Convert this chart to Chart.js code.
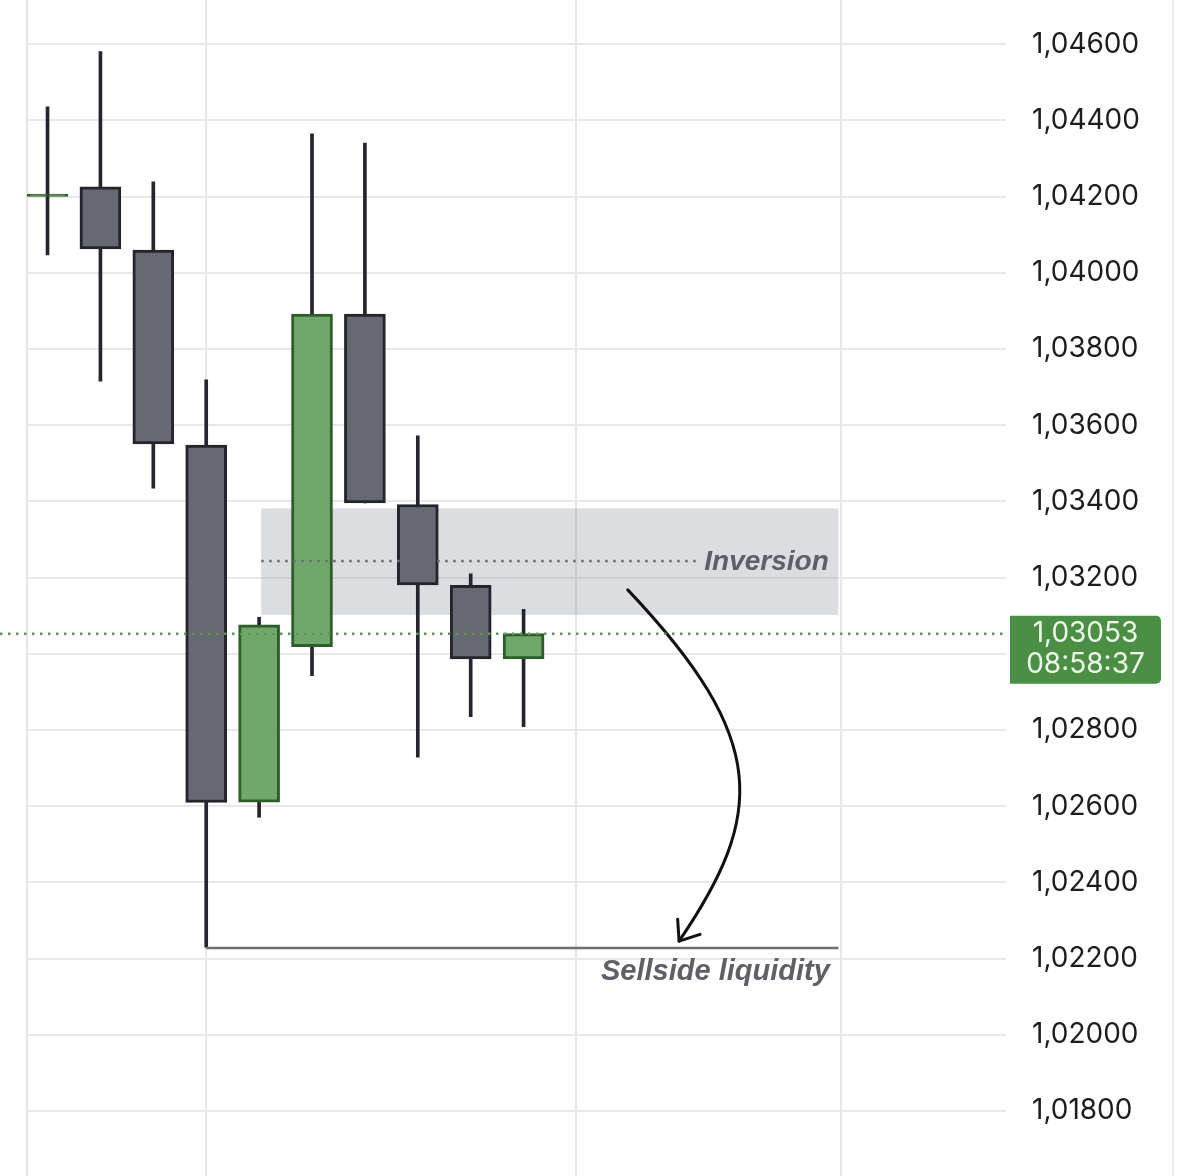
<!DOCTYPE html>
<html>
<head>
<meta charset="utf-8">
<script src="https://cdn.jsdelivr.net/npm/chart.js@4.4.1/dist/chart.umd.min.js"></script>
<style>
  html, body { margin: 0; padding: 0; background: #fff; }
  canvas { display: block; }
</style>
</head>
<body>
<canvas id="chart" width="1200" height="1176"></canvas>
<script>
// ── candles (index on the time axis, OHLC) ──
const candleIdx = [0, 1, 2, 3, 4, 5, 6, 7, 8, 9];
const opens  = [1.04201, 1.04226, 1.04060, 1.03548, 1.02611, 1.03019, 1.03892, 1.03392, 1.03180, 1.02987];
const closes = [1.04207, 1.04063, 1.03551, 1.02610, 1.03076, 1.03892, 1.03396, 1.03181, 1.02987, 1.03053];
const highs  = [1.04436, 1.04581, 1.04239, 1.03719, 1.03096, 1.04365, 1.04341, 1.03572, 1.03210, 1.03117];
const lows   = [1.04047, 1.03716, 1.03435, 1.02230, 1.02571, 1.02943, 1.03396, 1.02729, 1.02835, 1.02809];

// ── axes ──
const yTicks = [1.018, 1.020, 1.022, 1.024, 1.026, 1.028, 1.030, 1.032, 1.034, 1.036, 1.038, 1.040, 1.042, 1.044, 1.046];
const xGrid = [3, 10, 15];
const X_MIN = -0.388, X_MAX = 18.12;
const Y_MIN = 1.016294, Y_MAX = 1.047163;

// ── annotations ──
const lastPrice = 1.03053;
const countdown = '08:58:37';
const zone = { x0: 4.04, x1: 14.95, lo: 1.03102, hi: 1.03382 };
const inversionLevel = 1.03244;
const inversionLineEnd = 12.27;
const sellsideLevel = 1.02228;
const sellsideFrom = 3, sellsideTo = 14.95;
// arrow, cubic bezier in data space
const arrowPts = [[10.97, 1.03168], [13.66, 1.02774], [13.56, 1.02577], [11.94, 1.02246]];

const BULL_FILL = '#70a86b', BULL_LINE = '#2d5d29';
const BEAR_FILL = '#676872', BEAR_LINE = '#24242c';
const WICK = '#25252d';

const fmt = v => v.toFixed(5).replace('.', ',');
const isDoji = i => Math.abs(closes[i] - opens[i]) < 0.0001;

const overlays = {
  id: 'overlays',
  beforeDatasetsDraw(chart) {
    const { ctx, scales: { x, y } } = chart;
    ctx.save();
    // right panel border
    ctx.strokeStyle = '#ebebeb'; ctx.lineWidth = 2;
    ctx.beginPath(); ctx.moveTo(1173, 0); ctx.lineTo(1173, chart.height); ctx.stroke();
    // inversion zone
    ctx.fillStyle = 'rgba(140,143,155,0.3)';
    const zx = x.getPixelForValue(zone.x0), zy = y.getPixelForValue(zone.hi);
    ctx.fillRect(zx, zy, x.getPixelForValue(zone.x1) - zx, y.getPixelForValue(zone.lo) - zy);
    ctx.restore();
  },
  afterDatasetsDraw(chart) {
    const { ctx, chartArea, scales: { x, y } } = chart;
    ctx.save();
    // inversion dotted line + label
    const iy = y.getPixelForValue(inversionLevel);
    ctx.strokeStyle = '#6e6e76'; ctx.lineWidth = 2.5; ctx.setLineDash([2.5, 5.5]);
    ctx.beginPath(); ctx.moveTo(x.getPixelForValue(zone.x0), iy); ctx.lineTo(x.getPixelForValue(inversionLineEnd), iy); ctx.stroke();
    ctx.setLineDash([]);
    ctx.fillStyle = '#5e5f67';
    ctx.font = 'italic bold 28px "Liberation Sans", Arial, sans-serif';
    ctx.textAlign = 'right'; ctx.textBaseline = 'middle';
    ctx.fillText('Inversion', x.getPixelForValue(14.77), iy + 1);

    // sellside liquidity line + label
    const sy = y.getPixelForValue(sellsideLevel);
    ctx.strokeStyle = '#6d6d6f'; ctx.lineWidth = 2.5;
    ctx.beginPath(); ctx.moveTo(x.getPixelForValue(sellsideFrom), sy); ctx.lineTo(x.getPixelForValue(sellsideTo), sy); ctx.stroke();
    ctx.font = 'italic bold 29px "Liberation Sans", Arial, sans-serif';
    ctx.fillText('Sellside liquidity', x.getPixelForValue(14.79), sy + 24);

    // curved arrow
    const p = arrowPts.map(([a, b]) => [x.getPixelForValue(a), y.getPixelForValue(b)]);
    ctx.strokeStyle = '#111'; ctx.lineWidth = 3; ctx.lineCap = 'round'; ctx.lineJoin = 'round';
    ctx.beginPath(); ctx.moveTo(p[0][0], p[0][1]);
    ctx.bezierCurveTo(p[1][0], p[1][1], p[2][0], p[2][1], p[3][0], p[3][1]);
    ctx.stroke();
    const ang = Math.atan2(p[2][1] - p[3][1], p[2][0] - p[3][0]);
    const head = 22, spread = 38 * Math.PI / 180;
    ctx.beginPath();
    ctx.moveTo(p[3][0] + head * Math.cos(ang - spread), p[3][1] + head * Math.sin(ang - spread));
    ctx.lineTo(p[3][0], p[3][1]);
    ctx.lineTo(p[3][0] + head * Math.cos(ang + spread), p[3][1] + head * Math.sin(ang + spread));
    ctx.stroke();

    // last price dotted line
    const py = y.getPixelForValue(lastPrice);
    ctx.strokeStyle = '#5b9956'; ctx.lineWidth = 2.5; ctx.lineCap = 'butt'; ctx.setLineDash([2.5, 5.5]);
    ctx.beginPath(); ctx.moveTo(0, py); ctx.lineTo(chartArea.right, py); ctx.stroke();
    ctx.setLineDash([]);

    // price label
    const bx = chartArea.right + 4, bw = 151, by = py - 18, bh = 68, r = 5;
    ctx.fillStyle = '#4a8f43';
    ctx.beginPath();
    ctx.moveTo(bx, by); ctx.lineTo(bx + bw - r, by);
    ctx.arcTo(bx + bw, by, bx + bw, by + r, r);
    ctx.lineTo(bx + bw, by + bh - r);
    ctx.arcTo(bx + bw, by + bh, bx + bw - r, by + bh, r);
    ctx.lineTo(bx, by + bh); ctx.closePath(); ctx.fill();
    ctx.fillStyle = '#eef7ea';
    ctx.font = '28px Inter, "Noto Sans", sans-serif';
    ctx.textAlign = 'center';
    ctx.fillText(fmt(lastPrice), bx + bw / 2, py);
    ctx.fillText(countdown, bx + bw / 2, py + 31);
    ctx.restore();
  }
};

const candleColor = (i, bull, bear) => (closes[i] >= opens[i] ? bull : bear);

new Chart(document.getElementById('chart'), {
  type: 'bar',
  data: {
    datasets: [
      {
        label: 'body',
        data: candleIdx.map(i => ({ x: i, y: [opens[i], closes[i]] })),
        backgroundColor: c => isDoji(c.dataIndex) ? BULL_LINE : candleColor(c.dataIndex, BULL_FILL, BEAR_FILL),
        borderColor: c => candleColor(c.dataIndex, BULL_LINE, BEAR_LINE),
        borderWidth: 3,
        borderSkipped: false,
        barThickness: 41,
        grouped: false,
        order: 0
      },
      {
        label: 'wick',
        data: candleIdx.map(i => ({ x: i, y: [lows[i], highs[i]] })),
        backgroundColor: WICK,
        borderWidth: 0,
        barThickness: 3,
        grouped: false,
        order: 1
      }
    ]
  },
  options: {
    responsive: false,
    animation: false,
    layout: { padding: { left: 27, right: 0, top: 0, bottom: 0 } },
    plugins: { legend: { display: false }, tooltip: { enabled: false } },
    scales: {
      x: {
        type: 'linear', min: X_MIN, max: X_MAX, offset: false,
        afterBuildTicks: s => { s.ticks = [X_MIN, ...xGrid].map(v => ({ value: v })); },
        afterFit: s => { s.height = 0; s.paddingLeft = 0; s.paddingRight = 0; },
        ticks: { display: false },
        grid: { color: '#e6e6e6', lineWidth: 2, drawTicks: false, offset: false },
        border: { display: false }
      },
      y: {
        position: 'right', min: Y_MIN, max: Y_MAX,
        afterBuildTicks: s => { s.ticks = yTicks.map(v => ({ value: v })); },
        afterFit: s => { s.width = 194; s.paddingTop = 0; s.paddingBottom = 0; },
        ticks: {
          padding: 26, color: '#1d1d1f',
          font: { family: 'Inter, "Noto Sans", sans-serif', size: 28 },
          callback: v => fmt(v)
        },
        grid: { color: '#e8e8e8', lineWidth: 2, drawTicks: false },
        border: { display: false }
      }
    }
  },
  plugins: [overlays]
});
</script>
</body>
</html>
